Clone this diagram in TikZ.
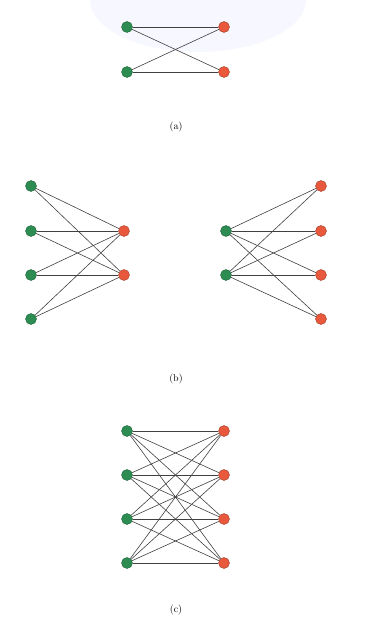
\documentclass[tikz,border=0pt]{standalone}
\definecolor{gfill}{RGB}{44,140,82}
\definecolor{rfill}{RGB}{232,88,60}
\begin{document}
\begin{tikzpicture}[x=1pt,y=-1pt,
  gn/.style={circle,fill=gfill,draw=gfill!70!black,line width=0.4pt,minimum size=11pt,inner sep=0pt},
  rn/.style={circle,fill=rfill,draw=rfill!70!black,line width=0.4pt,minimum size=11pt,inner sep=0pt},
  ed/.style={draw=black!75,line width=0.6pt},
  lab/.style={font=\normalsize}]
\useasboundingbox (0,0) rectangle (366,626);
\fill[blue!3] (198,0) ellipse (108 and 52);
% (a)
\node[gn] (a1) at (127,27) {};
\node[gn] (a2) at (127,72) {};
\node[rn] (ar1) at (224,27) {};
\node[rn] (ar2) at (224,72) {};
\foreach \g in {a1,a2}{\foreach \r in {ar1,ar2}{\path[ed] (\g) -- (\r);}}
\node[lab] (la) at (176,127) {(a)};
% (b) left
\node[gn] (b1) at (31,186) {};
\node[gn] (b2) at (31,231) {};
\node[gn] (b3) at (31,275) {};
\node[gn] (b4) at (31,319) {};
\node[rn] (br1) at (124,231) {};
\node[rn] (br2) at (124,275) {};
\foreach \g in {b1,b2,b3,b4}{\foreach \r in {br1,br2}{\path[ed] (\g) -- (\r);}}
% (b) right
\node[gn] (c1) at (226,231) {};
\node[gn] (c2) at (226,275) {};
\node[rn] (cr1) at (321,186) {};
\node[rn] (cr2) at (321,231) {};
\node[rn] (cr3) at (321,275) {};
\node[rn] (cr4) at (321,319) {};
\foreach \g in {c1,c2}{\foreach \r in {cr1,cr2,cr3,cr4}{\path[ed] (\g) -- (\r);}}
\node[lab] (lb) at (176,379) {(b)};
% (c)
\node[gn] (d1) at (127,431) {};
\node[gn] (d2) at (127,475) {};
\node[gn] (d3) at (127,519) {};
\node[gn] (d4) at (127,563) {};
\node[rn] (dr1) at (224,431) {};
\node[rn] (dr2) at (224,475) {};
\node[rn] (dr3) at (224,519) {};
\node[rn] (dr4) at (224,563) {};
\foreach \g in {d1,d2,d3,d4}{\foreach \r in {dr1,dr2,dr3,dr4}{\path[ed] (\g) -- (\r);}}
\node[lab] (lc) at (176,610) {(c)};
\end{tikzpicture}
\end{document}
